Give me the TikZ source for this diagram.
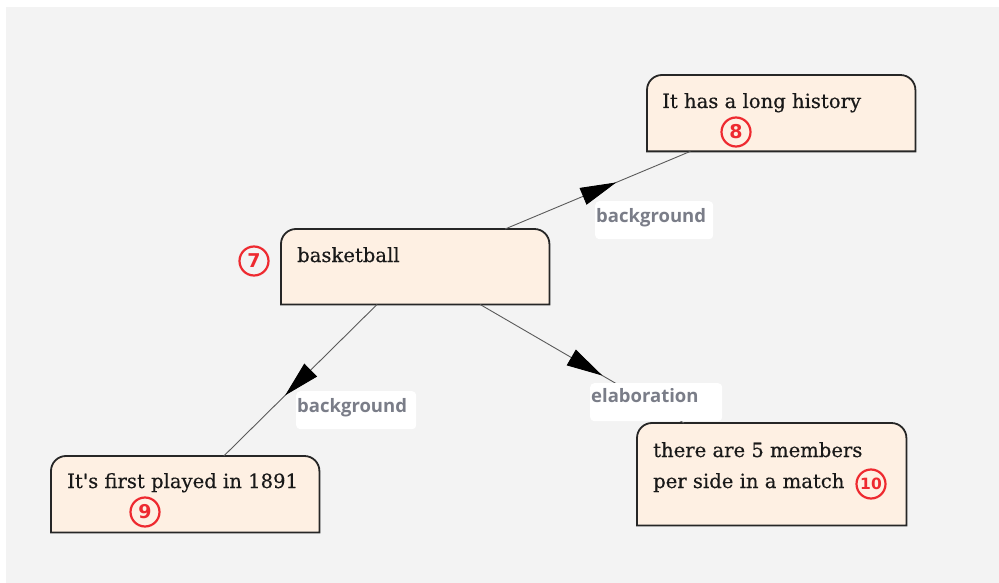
\documentclass[tikz,border=0pt]{standalone}
\usepackage{fontspec}
\setmainfont{DejaVu Serif}
\newfontfamily\boxfont{DejaVu Serif}[FakeBold=0.4]
\newfontfamily\lblfont{Open Sans}
\newfontfamily\numfont{DejaVu Sans}
\usetikzlibrary{arrows.meta,decorations.markings,backgrounds}

\definecolor{canvas}{HTML}{F3F3F3}
\definecolor{boxfill}{HTML}{FEF0E3}
\definecolor{boxline}{HTML}{262626}
\definecolor{edgecol}{HTML}{5A5A5A}
\definecolor{lblcol}{HTML}{7A7D88}
\definecolor{numred}{HTML}{EE2A30}

\tikzset{
  box/.style={draw=none, fill=none, inner sep=0pt, anchor=north west,
    minimum width=268pt},
  boxshape/.style={draw=boxline, fill=boxfill, line width=1.8pt},
  txt/.style={inner sep=0pt, anchor=base west, text=black!90,
    font=\boxfont\fontsize{19.6}{28}\selectfont},
  num/.style={circle, draw=numred, line width=2.2pt, minimum size=29pt,
    inner sep=0pt, text=numred, font=\numfont\bfseries\fontsize{19}{19}\selectfont},
  lbl/.style={fill=white, rounded corners=4pt, anchor=north west,
    inner xsep=1pt, inner ysep=3pt, text height=18pt, text depth=14pt,
    align=left, text=lblcol, font=\lblfont\bfseries\fontsize{18.5}{18.5}\selectfont},
  rel/.style={draw=edgecol, line width=0.9pt, postaction={decorate},
    decoration={markings, mark=at position 0.6 with
      {\arrow{Triangle[length=36pt,width=18pt,color=black]}}}},
}

% box outline: rounded top corners, square bottom corners
\newcommand\tabshape[1]{%
  \path[boxshape] (#1.south west) -- ([yshift=-15pt]#1.north west)
    arc[start angle=180,end angle=90,radius=15pt]
    -- ([xshift=-15pt]#1.north east)
    arc[start angle=90,end angle=0,radius=15pt]
    -- (#1.south east) -- cycle;}

\begin{document}
\begin{tikzpicture}[x=1pt,y=-1pt]
  \useasboundingbox (0,0) rectangle (999,583);

  % boxes (geometry only)
  \node[box, minimum height=75pt]  (n7)  at (281,229) {};
  \node[box, minimum height=76pt]  (n8)  at (647,75)  {};
  \node[box, minimum height=76pt]  (n9)  at (51,456)  {};
  \node[box, minimum width=269pt, minimum height=102pt] (n10) at (637,423) {};

  \begin{scope}[on background layer]
    \fill[white] (0,0) rectangle (999,583);
    \fill[canvas] (6,7) rectangle (999,583);
    \tabshape{n7}
    \tabshape{n8}
    \tabshape{n9}
    \tabshape{n10}
  \end{scope}

  % box texts
  \node[txt] (t7)  at (297,262) {basketball};
  \node[txt] (t8)  at (662,108) {It has a long history};
  \node[txt] (t9)  at (67,488)  {It's first played in 1891};
  \node[txt] (t10a) at (653,457) {there are 5 members};
  \node[txt] (t10b) at (653,488) {per side in a match};

  % numbers
  \node[num] (c7)  at (254,261) {7};
  \node[num] (c8)  at (736,132) {8};
  \node[num] (c9)  at (145,512) {9};
  \node[num, font=\numfont\bfseries\fontsize{15.5}{15.5}\selectfont] (c10) at (871,484) {10};

  % relations
  \draw[rel] (n7) -- (n8);
  \draw[rel] (n7) -- (n9);
  \draw[rel] (n7) -- (n10);

  % relation labels
  \node[lbl, text width=116pt] (l8)  at (595,201) {background};
  \node[lbl, text width=118pt] (l9)  at (296,391) {background};
  \node[lbl, text width=130pt, text height=16pt, text depth=16pt] (l10) at (590,383) {elaboration};
\end{tikzpicture}
\end{document}
